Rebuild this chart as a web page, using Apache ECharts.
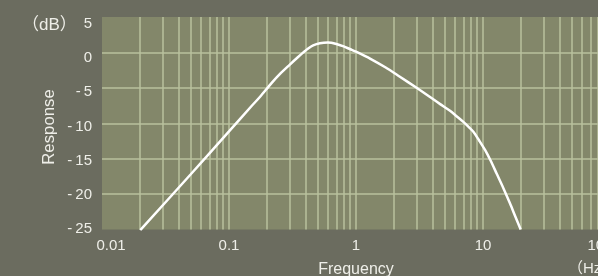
<!DOCTYPE html>
<html>
<head>
<meta charset="utf-8">
<script src="https://cdn.jsdelivr.net/npm/echarts@6/dist/echarts.min.js"></script>
<style>
html,body{margin:0;padding:0;background:#6b6c5f;}
#chart{width:598px;height:276px;}
</style>
</head>
<body>
<div id="chart"></div>
<script>
// Data
const freqHz = [0.02, 0.05, 0.1, 0.15, 0.175, 0.217, 0.25, 0.3, 0.35, 0.385, 0.42, 0.46, 0.52, 0.6, 0.7, 0.8, 0.9, 1.0, 1.3, 1.7, 2.2, 3.0, 3.8, 4.6, 5.5, 6.2, 7.0, 7.7, 8.4, 9.3, 10.4, 11.5, 12.8, 14.5, 16.3, 18.0, 19.8];
const responseDb = [-25.1, -17.2, -11.15, -7.6, -6.3, -4.3, -3.1, -1.75, -0.65, 0.0, 0.55, 1.0, 1.3, 1.4, 1.2, 0.85, 0.45, 0.1, -0.9, -2.1, -3.4, -5.0, -6.26, -7.3, -8.23, -9.0, -9.8, -10.5, -11.2, -12.4, -13.8, -15.3, -17.1, -19.2, -21.3, -23.2, -25.0];
const xMajorTicks = [0.01, 0.1, 1, 10, 100];
const xMinorGrid = [0.02,0.03,0.04,0.05,0.06,0.07,0.08,0.09,0.2,0.3,0.4,0.5,0.6,0.7,0.8,0.9,2,3,4,5,6,7,8,9,20,30,40,50,60,70,80,90];
const yTickLabels = [5, 0, -5, -10, -15, -20, -25];
const yUnit = '（dB）';
const xUnit = '（Hz）';
const xName = 'Frequency';
const yName = 'Response';

const gridCol = '#b8c09e';
const textCol = '#eeeee8';
const fontFam = '"Liberation Sans", Arial, "Noto Sans CJK JP", sans-serif';

const chart = echarts.init(document.getElementById('chart'), null, {renderer: 'canvas'});
chart.setOption({
  animation: false,
  backgroundColor: '#6b6c5f',
  grid: {left: 102, top: 17, right: -12, bottom: 46.5, show: true, backgroundColor: '#83876a', borderWidth: 0, containLabel: false, outerBoundsMode: 'none'},
  xAxis: {
    type: 'log', logBase: 10, min: xMajorTicks[0], max: xMajorTicks[xMajorTicks.length - 1],
    axisLine: {show: false}, axisTick: {show: false},
    splitLine: {show: true, showMinLine: false, showMaxLine: false, lineStyle: {color: gridCol, width: 1.5}},
    axisLabel: {
      color: textCol, fontSize: 15, fontFamily: fontFam, margin: 9,
      formatter: function (v) {
        const s = String(+(+v).toPrecision(6));
        if (s === '0.01') return '{l|' + s + '}';
        if (s === '100') return '{r|' + s + '}';
        return s;
      },
      rich: {
        l: {color: textCol, fontSize: 15, fontFamily: fontFam, padding: [0, 0, 0, 18]},
        r: {color: textCol, fontSize: 15, fontFamily: fontFam, padding: [0, 20, 0, 0]}
      }
    },
    name: xName, nameLocation: 'middle', nameGap: 32,
    nameTextStyle: {color: textCol, fontSize: 16, fontFamily: fontFam}
  },
  yAxis: [{
    type: 'value', min: -25, max: 5, interval: 5,
    axisLine: {show: false}, axisTick: {show: false}, axisLabel: {show: false},
    splitLine: {show: true, showMinLine: false, showMaxLine: false, lineStyle: {color: gridCol, width: 1.5}}
  }, {
    type: 'value', min: -25.074, max: 6.024, position: 'left',
    axisLine: {show: false}, axisTick: {show: false}, splitLine: {show: false},
    axisLabel: {
      show: true, customValues: yTickLabels, color: textCol, fontSize: 15, fontFamily: fontFam, margin: 10,
      formatter: function (v) { return v < 0 ? '-\u2009' + Math.abs(v) : String(v); }
    }
  }],
  graphic: [
    {type: 'text', x: 22, y: 25, style: {text: yUnit, fill: textCol, font: '17px ' + fontFam, textVerticalAlign: 'middle'}},
    {type: 'text', x: 568, y: 269, style: {text: xUnit, fill: textCol, font: '15px ' + fontFam, textVerticalAlign: 'middle'}},
    {type: 'text', x: 49, y: 127, rotation: Math.PI / 2, style: {text: yName, fill: textCol, font: '16.8px ' + fontFam, textAlign: 'center', textVerticalAlign: 'middle'}}
  ],
  series: [{
    type: 'line', data: [], z: 1, silent: true,
    markLine: {
      silent: true, symbol: ['none', 'none'], label: {show: false}, animation: false,
      lineStyle: {color: gridCol, width: 1.5, type: 'solid'},
      emphasis: {disabled: true},
      data: xMinorGrid.map(v => ({xAxis: v}))
    }
  }, {
    type: 'line', z: 5, smooth: 0.3, showSymbol: false, symbol: 'none',
    lineStyle: {color: '#ffffff', width: 2.5},
    clip: true,
    data: freqHz.map((f, i) => [f, responseDb[i]])
  }]
});
</script>
</body>
</html>
